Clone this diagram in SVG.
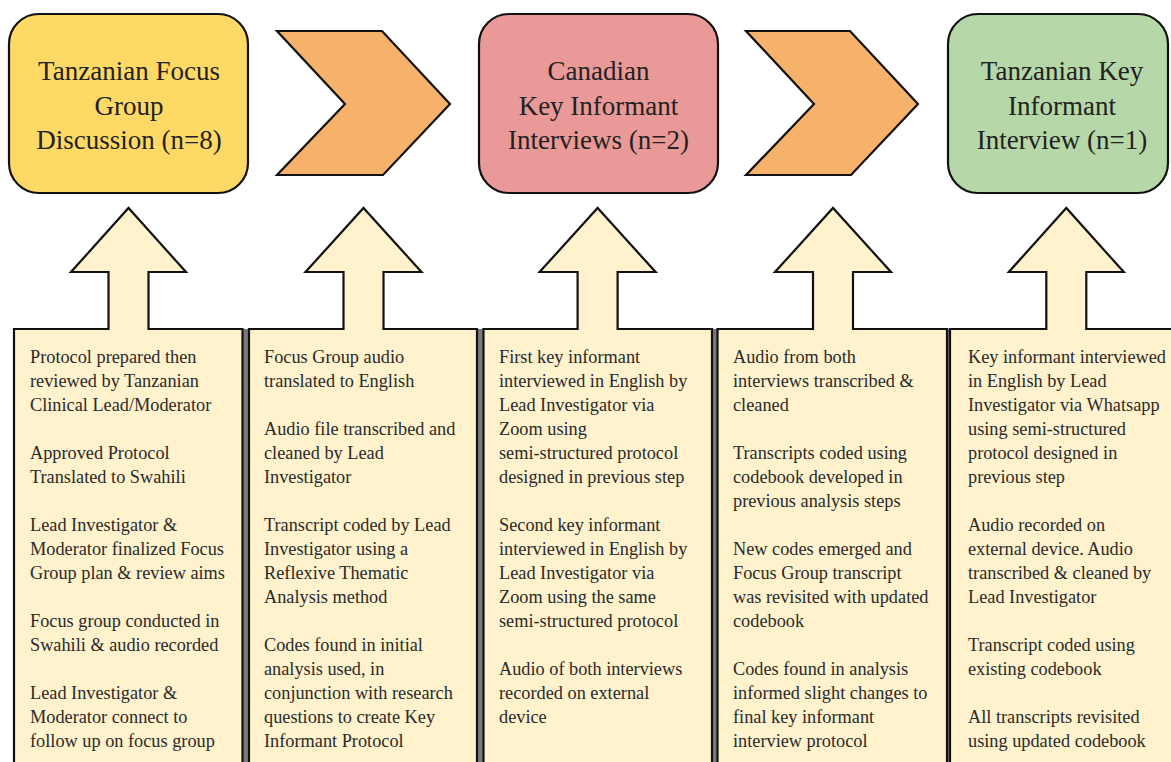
<svg xmlns="http://www.w3.org/2000/svg" width="1171" height="762" viewBox="0 0 1171 762">
<style>
.top{stroke:#111;stroke-width:2.2}
.title{font-family:"Liberation Serif","Times New Roman",serif;font-size:27px;fill:#222;text-anchor:middle}
.call{fill:#FFF2CC;stroke:#111;stroke-width:2.2;stroke-linejoin:miter}
.body{font-family:"Liberation Serif","Times New Roman",serif;font-size:18.3px;fill:#2a2a2a}
.chev{fill:#F6B26B;stroke:#111;stroke-width:2.2;stroke-linejoin:miter}
.gap{fill:#7a7a7a}
</style>
<rect width="1171" height="762" fill="#fff"/>
<g id="gaps">
<rect class="gap" x="242.5" y="329" width="6.5" height="440"/>
<rect class="gap" x="477" y="329" width="6.5" height="440"/>
<rect class="gap" x="712" y="329" width="5.5" height="440"/>
<rect class="gap" x="947" y="329" width="3" height="440"/>
</g>
<g id="node-fgd">
<rect class="top" x="9" y="14" width="239" height="179" rx="30" fill="#FFD966"/>
<text class="title" x="129"><tspan x="129" y="80">Tanzanian Focus</tspan><tspan x="129" y="114.5">Group</tspan><tspan x="129" y="149">Discussion (n=8)</tspan></text>
</g>
<g id="node-cki">
<rect class="top" x="479" y="14" width="239" height="179" rx="30" fill="#EA9999"/>
<text class="title"><tspan x="598.5" y="80">Canadian</tspan><tspan x="598.5" y="114.5">Key Informant</tspan><tspan x="598.5" y="149">Interviews (n=2)</tspan></text>
</g>
<g id="node-tki">
<rect class="top" x="948" y="14" width="220" height="179" rx="30" fill="#B6D7A8"/>
<text class="title"><tspan x="1062" y="80">Tanzanian Key</tspan><tspan x="1062" y="114.5">Informant</tspan><tspan x="1062" y="149">Interview (n=1)</tspan></text>
</g>
<g id="connectors">
<polygon class="chev" points="277,31 382,31 450,104 383,175 277,175 345,104"/>
<polygon class="chev" points="746,31 850,31 918,104 851,175 746,175 814,104"/>
</g>
<g id="callout-1">
<path class="call" d="M14,770 L14,329 L108.5,329 L108.5,272 L71,272 L128.5,208 L186,272 L148.5,272 L148.5,329 L242.5,329 L242.5,770 Z"/>
<text class="body"><tspan x="30" y="362.5">Protocol prepared then</tspan><tspan x="30" y="386.5">reviewed by Tanzanian</tspan><tspan x="30" y="410.5">Clinical Lead/Moderator</tspan><tspan x="30" y="458.5">Approved Protocol</tspan><tspan x="30" y="482.5">Translated to Swahili</tspan><tspan x="30" y="530.5">Lead Investigator &amp;</tspan><tspan x="30" y="554.5">Moderator finalized Focus</tspan><tspan x="30" y="578.5">Group plan &amp; review aims</tspan><tspan x="30" y="626.5">Focus group conducted in</tspan><tspan x="30" y="650.5">Swahili &amp; audio recorded</tspan><tspan x="30" y="698.5">Lead Investigator &amp;</tspan><tspan x="30" y="722.5">Moderator connect to</tspan><tspan x="30" y="746.5">follow up on focus group</tspan></text>
</g>
<g id="callout-2">
<path class="call" d="M249,770 L249,329 L343.5,329 L343.5,272 L305.5,272 L363.5,208 L421.5,272 L383.5,272 L383.5,329 L477,329 L477,770 Z"/>
<text class="body"><tspan x="264" y="362.5">Focus Group audio</tspan><tspan x="264" y="386.5">translated to English</tspan><tspan x="264" y="434.5">Audio file transcribed and</tspan><tspan x="264" y="458.5">cleaned by Lead</tspan><tspan x="264" y="482.5">Investigator</tspan><tspan x="264" y="530.5">Transcript coded by Lead</tspan><tspan x="264" y="554.5">Investigator using a</tspan><tspan x="264" y="578.5">Reflexive Thematic</tspan><tspan x="264" y="602.5">Analysis method</tspan><tspan x="264" y="650.5">Codes found in initial</tspan><tspan x="264" y="674.5">analysis used, in</tspan><tspan x="264" y="698.5">conjunction with research</tspan><tspan x="264" y="722.5">questions to create Key</tspan><tspan x="264" y="746.5">Informant Protocol</tspan></text>
</g>
<g id="callout-3">
<path class="call" d="M483.5,770 L483.5,329 L577.6,329 L577.6,272 L539.6,272 L597.6,208 L655.6,272 L617.6,272 L617.6,329 L712,329 L712,770 Z"/>
<text class="body"><tspan x="499" y="362.5">First key informant</tspan><tspan x="499" y="386.5">interviewed in English by</tspan><tspan x="499" y="410.5">Lead Investigator via</tspan><tspan x="499" y="434.5">Zoom using</tspan><tspan x="499" y="458.5">semi-structured protocol</tspan><tspan x="499" y="482.5">designed in previous step</tspan><tspan x="499" y="530.5">Second key informant</tspan><tspan x="499" y="554.5">interviewed in English by</tspan><tspan x="499" y="578.5">Lead Investigator via</tspan><tspan x="499" y="602.5">Zoom using the same</tspan><tspan x="499" y="626.5">semi-structured protocol</tspan><tspan x="499" y="674.5">Audio of both interviews</tspan><tspan x="499" y="698.5">recorded on external</tspan><tspan x="499" y="722.5">device</tspan></text>
</g>
<g id="callout-4">
<path class="call" d="M717.5,770 L717.5,329 L813,329 L813,272 L775,272 L833,208 L891,272 L853,272 L853,329 L947,329 L947,770 Z"/>
<text class="body"><tspan x="733" y="362.5">Audio from both</tspan><tspan x="733" y="386.5">interviews transcribed &amp;</tspan><tspan x="733" y="410.5">cleaned</tspan><tspan x="733" y="458.5">Transcripts coded using</tspan><tspan x="733" y="482.5">codebook developed in</tspan><tspan x="733" y="506.5">previous analysis steps</tspan><tspan x="733" y="554.5">New codes emerged and</tspan><tspan x="733" y="578.5">Focus Group transcript</tspan><tspan x="733" y="602.5">was revisited with updated</tspan><tspan x="733" y="626.5">codebook</tspan><tspan x="733" y="674.5">Codes found in analysis</tspan><tspan x="733" y="698.5">informed slight changes to</tspan><tspan x="733" y="722.5">final key informant</tspan><tspan x="733" y="746.5">interview protocol</tspan></text>
</g>
<g id="callout-5">
<path class="call" d="M950,770 L950,329 L1046.3,329 L1046.3,272 L1008.8,272 L1066.3,208 L1123.8,272 L1086.3,272 L1086.3,329 L1180,329 L1180,770 Z"/>
<text class="body"><tspan x="968" y="362.5">Key informant interviewed</tspan><tspan x="968" y="386.5">in English by Lead</tspan><tspan x="968" y="410.5">Investigator via Whatsapp</tspan><tspan x="968" y="434.5">using semi-structured</tspan><tspan x="968" y="458.5">protocol designed in</tspan><tspan x="968" y="482.5">previous step</tspan><tspan x="968" y="530.5">Audio recorded on</tspan><tspan x="968" y="554.5">external device. Audio</tspan><tspan x="968" y="578.5">transcribed &amp; cleaned by</tspan><tspan x="968" y="602.5">Lead Investigator</tspan><tspan x="968" y="650.5">Transcript coded using</tspan><tspan x="968" y="674.5">existing codebook</tspan><tspan x="968" y="722.5">All transcripts revisited</tspan><tspan x="968" y="746.5">using updated codebook</tspan></text>
</g>
</svg>
